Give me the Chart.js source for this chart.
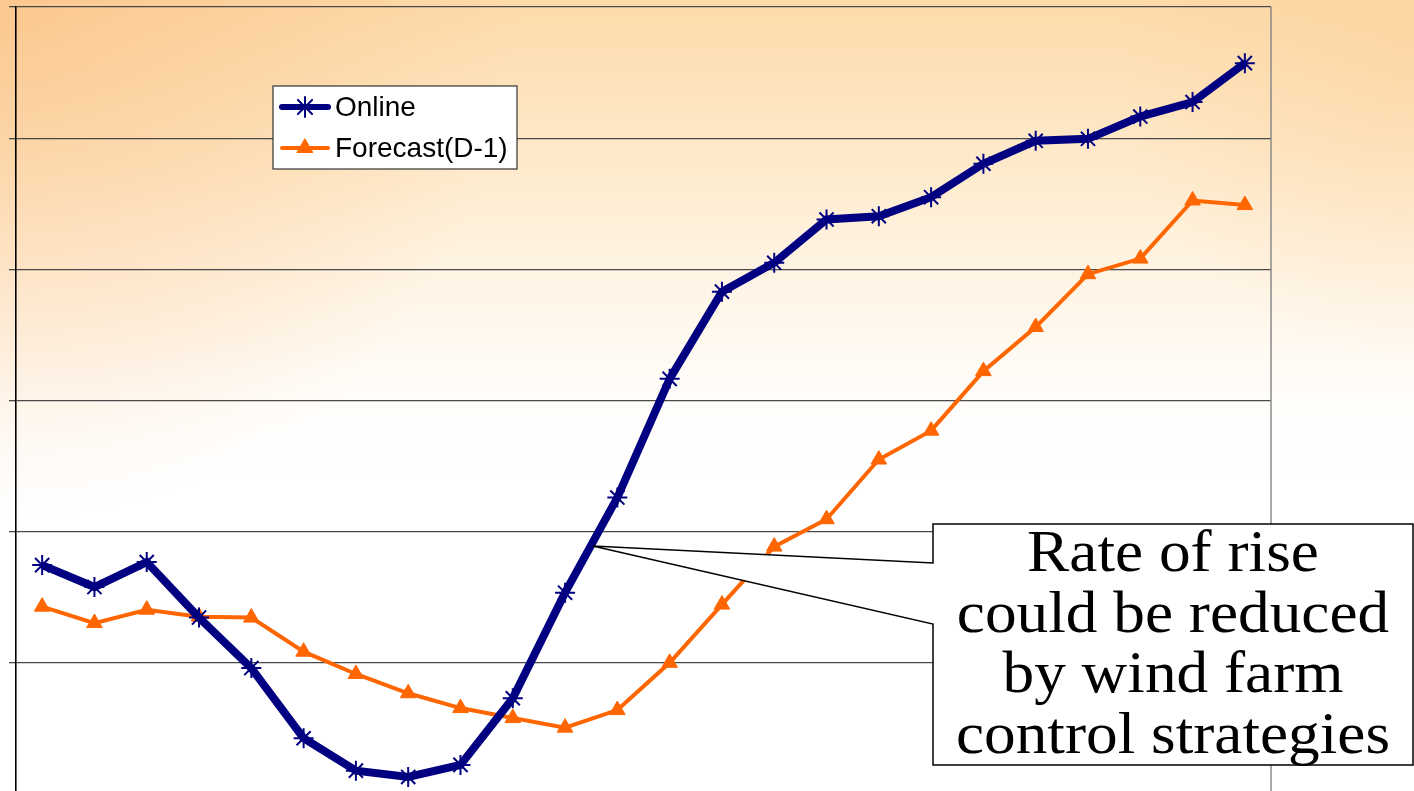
<!DOCTYPE html>
<html>
<head>
<meta charset="utf-8">
<script src="https://cdn.jsdelivr.net/npm/chart.js@4"></script>
<style>
  html, body { margin: 0; padding: 0; overflow: hidden; background: #fff; }
  canvas { display: block; }
</style>
</head>
<body>
<canvas id="myChart" width="1414" height="800"></canvas>
<script>
const hours = ["1", "2", "3", "4", "5", "6", "7", "8", "9", "10", "11", "12",
  "13", "14", "15", "16", "17", "18", "19", "20", "21", "22", "23", "24"];
const online = [1.745, 1.578, 1.768, 1.345, 0.96, 0.425, 0.178, 0.13, 0.222, 0.73, 1.535, 2.26,
  3.165, 3.83, 4.05, 4.38, 4.405, 4.55, 4.805, 4.98, 4.995, 5.165, 5.275, 5.572];
const forecast = [1.428, 1.303, 1.405, 1.352, 1.345, 1.085, 0.915, 0.768, 0.655, 0.579, 0.506, 0.64,
  1.0, 1.444, 1.886, 2.095, 2.55, 2.77, 3.224, 3.56, 3.963, 4.082, 4.525, 4.49];
const yTicks = [0, 1, 2, 3, 4, 5, 6];
const seriesNames = ["Online", "Forecast(D-1)"];
const calloutText = ["Rate of rise", "could be reduced", "by wind farm", "control strategies"];
const calloutAt = { index: 10.53, value: 1.89 };

const backdrop = {
  id: "backdrop",
  beforeDraw(chart) {
    const { ctx, width, height } = chart;
    ctx.save();
    ctx.fillStyle = "#fff";
    ctx.fillRect(0, 0, width, height);
    const g = ctx.createLinearGradient(0, 0, 0, 480);
    g.addColorStop(0, "rgba(253,218,170,1)");
    g.addColorStop(0.35, "rgba(254,232,198,0.9)");
    g.addColorStop(0.7, "rgba(255,244,228,0.6)");
    g.addColorStop(1, "rgba(255,255,255,0)");
    ctx.fillStyle = g;
    ctx.fillRect(0, 0, width, 480);
    const r = ctx.createRadialGradient(0, 0, 0, 0, 0, 520);
    r.addColorStop(0, "rgba(250,185,120,0.55)");
    r.addColorStop(1, "rgba(250,185,120,0)");
    ctx.fillStyle = r;
    ctx.fillRect(0, 0, width, height);
    const r2 = ctx.createRadialGradient(width, 60, 0, width, 60, 300);
    r2.addColorStop(0, "rgba(252,200,140,0.35)");
    r2.addColorStop(1, "rgba(252,200,140,0)");
    ctx.fillStyle = r2;
    ctx.fillRect(0, 0, width, height);
    ctx.restore();
  },
  beforeDatasetsDraw(chart) {
    const { ctx, chartArea } = chart;
    ctx.save();
    ctx.strokeStyle = "#8a8a8a";
    ctx.lineWidth = 1.5;
    ctx.beginPath();
    ctx.moveTo(chartArea.right, chartArea.top);
    ctx.lineTo(chartArea.right, chartArea.bottom);
    ctx.stroke();
    ctx.restore();
  },
  afterDraw(chart) {
    const { ctx } = chart;
    const x = chart.scales.x, y = chart.scales.y;

    // legend box
    ctx.save();
    ctx.fillStyle = "#fff";
    ctx.fillRect(273, 86, 244, 83);
    ctx.strokeStyle = "#333";
    ctx.lineWidth = 1.2;
    ctx.strokeRect(273, 86, 244, 83);
    const rows = [107, 148];
    chart.data.datasets.forEach((ds, i) => {
      const ry = rows[i];
      ctx.strokeStyle = ds.borderColor;
      ctx.lineWidth = i === 0 ? 6 : 4;
      ctx.lineCap = "round";
      ctx.beginPath();
      ctx.moveTo(282, ry);
      ctx.lineTo(328, ry);
      ctx.stroke();
      ctx.fillStyle = ds.pointBackgroundColor;
      ctx.strokeStyle = ds.pointBorderColor;
      ctx.lineWidth = ds.pointBorderWidth;
      Chart.helpers.drawPoint(ctx, {
        pointStyle: ds.pointStyle, radius: ds.pointRadius,
        borderWidth: ds.pointBorderWidth, rotation: 0
      }, 305, ry);
      ctx.fillStyle = "#000";
      ctx.font = "28px 'Liberation Sans', Arial, sans-serif";
      ctx.textBaseline = "middle";
      ctx.fillText(ds.label, 335, ry + 1);
    });
    ctx.restore();

    // callout
    const tipX = x.getPixelForValue(calloutAt.index);
    const tipY = y.getPixelForValue(calloutAt.value);
    const box = { left: 933, top: 524, right: 1413, bottom: 765 };
    ctx.save();
    ctx.beginPath();
    ctx.moveTo(box.left, box.top);
    ctx.lineTo(box.right, box.top);
    ctx.lineTo(box.right, box.bottom);
    ctx.lineTo(box.left, box.bottom);
    ctx.lineTo(box.left, 624);
    ctx.lineTo(tipX, tipY);
    ctx.lineTo(box.left, 563);
    ctx.closePath();
    ctx.fillStyle = "#fff";
    ctx.fill();
    ctx.strokeStyle = "#000";
    ctx.lineWidth = 1.5;
    ctx.stroke();
    ctx.fillStyle = "#000";
    ctx.font = "60px 'Liberation Serif', 'Times New Roman', serif";
    ctx.textAlign = "center";
    ctx.textBaseline = "alphabetic";
    const cx = (box.left + box.right) / 2;
    calloutText.forEach((line, i) => {
      ctx.save();
      ctx.translate(cx, 571 + i * 60.7);
      ctx.scale(1.055, 1);
      ctx.fillText(line, 0, 0);
      ctx.restore();
    });
    ctx.restore();
  }
};

const ctx = document.getElementById("myChart");
new Chart(ctx, {
  type: "line",
  data: {
    labels: hours,
    datasets: [
      {
        label: seriesNames[0],
        data: online,
        borderColor: "#000080",
        backgroundColor: "#000080",
        borderWidth: 8,
        pointStyle: "star",
        pointRadius: 10,
        pointBorderWidth: 2,
        pointBackgroundColor: "#000080",
        pointBorderColor: "#000080",
        tension: 0,
      },
      {
        label: seriesNames[1],
        data: forecast,
        borderColor: "#ff6600",
        backgroundColor: "#ff6600",
        borderWidth: 4,
        pointStyle: "triangle",
        pointRadius: 9,
        pointBorderWidth: 1,
        pointBackgroundColor: "#ff6600",
        pointBorderColor: "#ff6600",
        tension: 0,
      },
    ],
  },
  options: {
    responsive: false,
    animation: false,
    events: [],
    layout: { autoPadding: false, padding: { left: 0, top: 7, right: 143, bottom: 6 } },
    plugins: { legend: { display: false }, tooltip: { enabled: false } },
    scales: {
      x: {
        type: "category",
        offset: true,
        display: false,
      },
      y: {
        min: yTicks[0],
        max: yTicks[yTicks.length - 1],
        afterFit: (scale) => { scale.width = 16; },
        afterBuildTicks: (scale) => { scale.ticks = yTicks.map(v => ({ value: v })); },
        ticks: { display: false },
        grid: { color: "#4a4a4a", lineWidth: 1.3, tickLength: 7, drawTicks: true },
        border: { display: true, color: "#000", width: 1.6 },
      },
    },
  },
  plugins: [backdrop],
});
</script>
</body>
</html>
